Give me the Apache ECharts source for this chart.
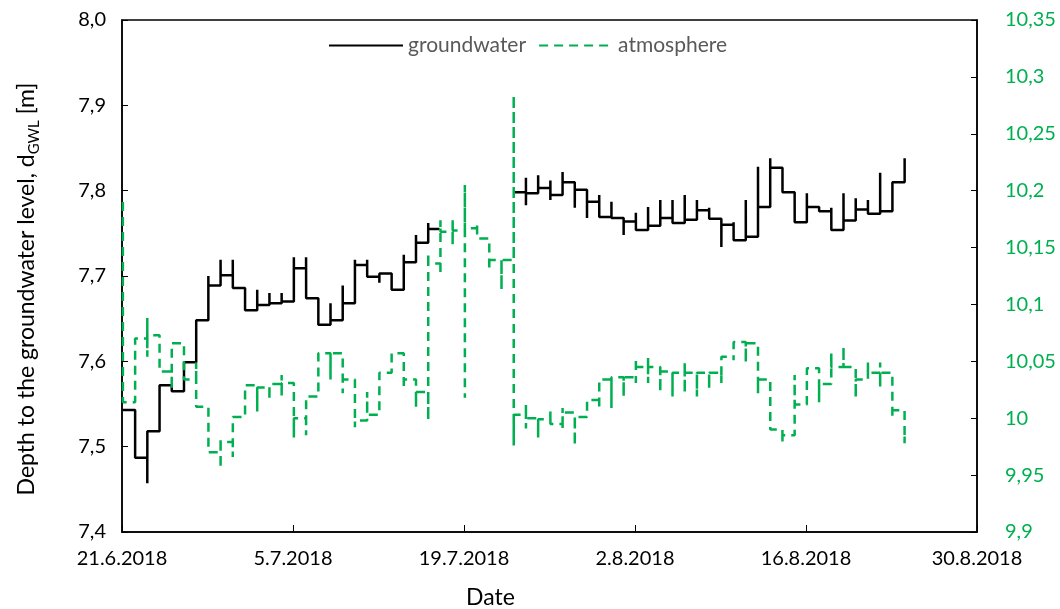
<!DOCTYPE html>
<html>
<head>
<meta charset="utf-8">
<script src="https://cdn.jsdelivr.net/npm/echarts@6/dist/echarts.min.js"></script>
<style>
  html, body { margin: 0; padding: 0; background: #fff; }
  #chart { width: 1060px; height: 609px; }
</style>
</head>
<body>
<div id="chart"></div>
<script>
// x axis: days since 21.6.2018, a label every 14 days
var dateLabels = ['21.6.2018', '5.7.2018', '19.7.2018', '2.8.2018', '16.8.2018', '30.8.2018'];

// groundwater depth [m], one value per day (null = no record)
var gwLevel = [
  7.543, 7.487, 7.518, 7.572, 7.565, 7.599, 7.648, 7.689, 7.701, 7.686,
  7.660, 7.666, 7.668, 7.670, 7.709, 7.674, 7.643, 7.648, 7.668, 7.713,
  7.699, 7.703, 7.684, 7.716, 7.739, 7.755, null, null, null, null,
  null, null, 7.798, 7.797, 7.803, 7.795, 7.810, 7.801, 7.787, 7.769,
  7.768, 7.764, 7.754, 7.759, 7.768, 7.762, 7.766, 7.777, 7.767, 7.760,
  7.742, 7.746, 7.781, 7.827, 7.798, 7.763, 7.781, 7.776, 7.754, 7.765,
  7.778, 7.773, 7.776, 7.810, 7.838
];
// short peaks at the daily change
var gwSpike = [
  null, null, 7.457, null, null, null, null, 7.700, 7.719, 7.719,
  null, 7.684, 7.680, 7.680, 7.722, 7.722, null, 7.668, 7.689, 7.719,
  7.719, 7.692, null, 7.725, 7.748, 7.762, null, null, null, null,
  null, null, null, [7.815, 7.783], 7.818, [7.789, 7.812], 7.822, 7.780, 7.768,
  7.795, 7.787, 7.748, 7.774, 7.781, 7.789, 7.789, 7.795, 7.789, 7.780,
  7.734, 7.763, 7.789, 7.828, 7.838, null, 7.791, 7.797, null, 7.780,
  7.797, 7.791, 7.789, 7.821, null
];

// atmosphere [m], right axis
var atLevel = [
  10.014, 10.070, 10.073, 10.041, 10.066, 10.034, 10.010, 9.970, 9.979, 10.001,
  10.029, 10.027, 10.030, 10.031, 10.000, 10.019, 10.057, 10.057, 10.034, 9.998,
  10.003, 10.040, 10.057, 10.034, 10.023, 10.136, 10.164, 10.165, 10.167, 10.158,
  10.139, 10.139, 10.003, 10.000, 9.999, 9.995, 10.005, 10.001, 10.016, 10.034,
  10.036, 10.036, 10.045, 10.045, 10.041, 10.040, 10.040, 10.040, 10.040, 10.054,
  10.067, 10.066, 10.034, 9.990, 9.985, 10.012, 10.044, 10.030, 10.045, 10.045,
  10.034, 10.040, 10.040, 10.007, 9.985
];
var atSpike = [
  10.19, null, [10.088, 10.054], null, 10.025, null, 10.049, null, [9.983, 9.956], 9.966,
  null, 10.006, 10.016, [10.038, 10.019], 9.983, 9.985, null, 10.034, 10.022, 9.992,
  10.023, 10.019, null, 10.026, 10.010, [9.998, 10.145], [10.128, 10.174], [10.152, 10.174], [10.205, 10.018], 10.172,
  10.132, 10.113, [10.284, 9.976], [10.012, 9.991], 9.983, 10.006, [10.009, 9.990], 9.976, null, 10.010,
  10.009, 10.019, [10.031, 10.051], [10.053, 10.031], 10.023, 10.019, [10.049, 10.022], 10.019, 10.026, 10.031,
  10.051, 10.049, 10.022, null, 9.978, 10.038, 10.020, 10.014, 10.057, 10.063,
  10.018, 10.049, [10.049, 10.027], 10.001, 9.978
];

// readings change a little after midnight
function buildSteps(levels, spikes) {
  var pts = [];
  for (var i = 0; i < levels.length; i++) {
    if (levels[i] == null) {
      if (pts.length && pts[pts.length - 1][1] != null) pts.push([i, null]);
      continue;
    }
    var t = i + 0.07;
    if (spikes[i] != null) {
      [].concat(spikes[i]).forEach(function (v, k) {
        pts.push([t + k * 0.002, v]);
      });
    }
    pts.push([t + 0.005, levels[i]]);
  }
  return pts;
}

var green = '#00B050';
var font = 'Lato, "Open Sans", sans-serif';

var chart = echarts.init(document.getElementById('chart'));
chart.setOption({
  animation: false,
  textStyle: { fontFamily: font },
  grid: {
    left: 122, right: 83, top: 20, bottom: 77,
    outerBoundsMode: 'none',
    show: true, borderColor: '#000', borderWidth: 1.5
  },
  legend: {
    left: 323, top: 30,
    itemWidth: 74, itemHeight: 14, itemGap: 12,
    itemStyle: { opacity: 0 },
    textStyle: { color: '#595959', fontSize: 21, fontFamily: font },
    data: ['groundwater', 'atmosphere']
  },
  xAxis: {
    type: 'value',
    min: 0, max: 70, interval: 14,
    name: 'Date', nameLocation: 'middle', nameGap: 54,
    nameTextStyle: { color: '#000', fontSize: 23, padding: [0, 118, 0, 0] },
    axisLine: { lineStyle: { color: '#000', width: 1.5 } },
    axisTick: { inside: true, length: 7, lineStyle: { color: '#000' } },
    splitLine: { show: false },
    axisLabel: {
      color: '#000', fontSize: 20, margin: 17,
      formatter: function (v) { return dateLabels[Math.round(v / 14)]; }
    }
  },
  yAxis: [{
    type: 'value',
    min: 7.4, max: 8.0, interval: 0.1,
    name: '{a|Depth to the groundwater level, d}{s|GWL}{a| [m]}',
    nameLocation: 'middle', nameGap: 84, nameRotate: 90,
    nameTextStyle: {
      padding: [0, 26, 0, 0],
      rich: {
        a: { fontSize: 23, color: '#000', fontFamily: font, lineHeight: 28, verticalAlign: 'bottom' },
        s: { fontSize: 15, color: '#000', fontFamily: font, lineHeight: 28, verticalAlign: 'bottom', padding: [0, 0, -4, 0] }
      }
    },
    axisLine: { show: true, lineStyle: { color: '#000', width: 1.5 } },
    axisTick: { show: true, inside: true, length: 6, lineStyle: { color: '#000' } },
    splitLine: { show: false },
    axisLabel: {
      color: '#000', fontSize: 20, margin: 16,
      formatter: function (v) { return v.toFixed(1).replace('.', ','); }
    }
  }, {
    type: 'value',
    position: 'right',
    min: 9.9, max: 10.35, interval: 0.05,
    axisLine: { show: true, lineStyle: { color: '#000', width: 1.5 } },
    axisTick: { show: true, inside: true, length: 6, lineStyle: { color: '#000' } },
    splitLine: { show: false },
    axisLabel: {
      color: green, fontSize: 20, margin: 28,
      formatter: function (v) { return String(+v.toFixed(2)).replace('.', ','); }
    }
  }],
  series: [{
    name: 'groundwater',
    type: 'line',
    yAxisIndex: 0,
    step: 'end',
    symbol: 'none',
    connectNulls: false,
    lineStyle: { color: '#000', width: 2.5 },
    itemStyle: { color: '#000' },
    data: buildSteps(gwLevel, gwSpike)
  }, {
    name: 'atmosphere',
    type: 'line',
    yAxisIndex: 1,
    step: 'end',
    symbol: 'none',
    lineStyle: { color: green, width: 2.5, type: [9, 6] },
    itemStyle: { color: green },
    data: buildSteps(atLevel, atSpike)
  }]
});
</script>
</body>
</html>
